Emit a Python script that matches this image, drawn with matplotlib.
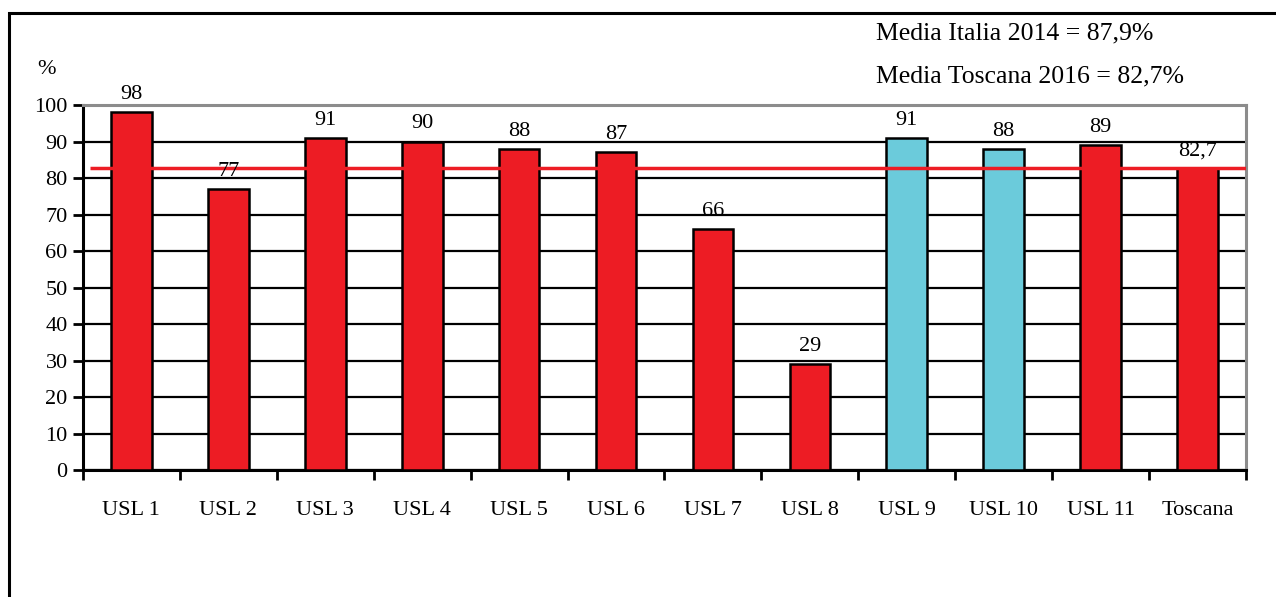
import matplotlib.pyplot as plt
import numpy as np
from matplotlib.patches import Rectangle

# dati per USL
usl = ['USL 1', 'USL 2', 'USL 3', 'USL 4', 'USL 5', 'USL 6', 'USL 7', 'USL 8',
       'USL 9', 'USL 10', 'USL 11', 'Toscana']
valori = [98, 77, 91, 90, 88, 87, 66, 29, 91, 88, 89, 82.7]
etichette = ['98', '77', '91', '90', '88', '87', '66', '29', '91', '88', '89', '82,7']
evidenziate = ['USL 9', 'USL 10']
media_toscana = 82.7

rosso = '#ED1C24'
azzurro = '#6BCBDB'

plt.rcParams['font.family'] = ['Liberation Serif', 'DejaVu Serif']

fig = plt.figure(figsize=(12.76, 5.97), dpi=100)
ax = fig.add_axes([0.065, 0.2127, 0.9115, 0.6114])

# cornice esterna
fig.patches.append(Rectangle((9 / 1276, -0.05), 1.1, 1 - 13 / 597 + 0.05,
                             transform=fig.transFigure, fill=False,
                             edgecolor='black', linewidth=2.2, zorder=0))

x = np.arange(len(usl))
colori = [azzurro if u in evidenziate else rosso for u in usl]
ax.bar(x, valori, width=0.42, color=colori, edgecolor='black', linewidth=1.8, zorder=3)

for xi, v, t in zip(x, valori, etichette):
    ax.text(xi, v + 2.2, t, ha='center', va='bottom', fontsize=16, zorder=5)

# linea della media toscana
ax.plot([-0.43, len(usl) - 0.5], [media_toscana, media_toscana], color=rosso,
        linewidth=2.5, zorder=4, solid_capstyle='butt')

ax.set_xlim(-0.5, len(usl) - 0.5)
ax.set_ylim(0, 100)
ax.set_yticks(np.arange(0, 101, 10))
ax.yaxis.grid(True, color='black', linewidth=1.6, zorder=1)
ax.set_axisbelow(True)

ax.set_xticks(x)
ax.set_xticklabels(usl, fontsize=16)
ax.set_xticks(np.arange(-0.5, len(usl), 1), minor=True)
ax.tick_params(axis='x', which='major', length=0, pad=22)
ax.tick_params(axis='x', which='minor', length=7, width=2, direction='out')
ax.tick_params(axis='y', length=7, width=2, labelsize=16, pad=4)

for s in ['left', 'bottom']:
    ax.spines[s].set_color('black')
    ax.spines[s].set_linewidth(2.2)
for s in ['top', 'right']:
    ax.spines[s].set_color('#8C8C8C')
    ax.spines[s].set_linewidth(2.2)

fig.text(37 / 1276, 1 - 70 / 597, '%', fontsize=16, va='center')
fig.text(876 / 1276, 1 - 33 / 597, 'Media Italia 2014 = 87,9%', fontsize=18.5, va='center')
fig.text(876 / 1276, 1 - 76 / 597, 'Media Toscana 2016 = 82,7%', fontsize=18.5, va='center')

fig.savefig('out.png', dpi=100)
